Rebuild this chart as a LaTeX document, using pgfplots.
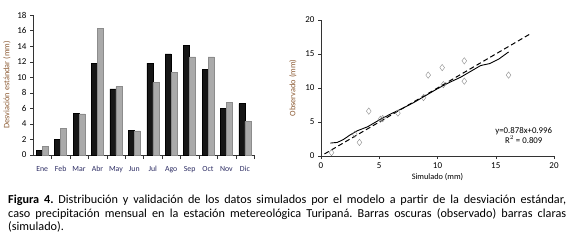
\documentclass[border=0pt]{standalone}
\usepackage{pgfplots}
\pgfplotsset{compat=1.18}
\usepackage{fontspec}
\setmainfont{Carlito}
\definecolor{labbrown}{RGB}{140,90,50}
\definecolor{monthc}{RGB}{45,45,100}
\definecolor{darkbar}{RGB}{22,22,22}
\definecolor{lightbar}{RGB}{170,170,170}
\begin{document}
\frenchspacing
\begin{tikzpicture}
\path[fill=white] (0pt,0pt) rectangle (572pt,-243pt);
\pgfplotsset{every axis/.append style={
  scale only axis, axis lines=left, axis line style={black!80, -},
  tick style={black!80}, tick align=outside,
  tick label style={font=\fontsize{9}{10}\selectfont},
  /pgf/number format/assume math mode=true,
}}
% left bar chart
\begin{axis}[at={(33pt,-155pt)}, anchor=south west,
  width=222pt, height=140pt,
  xmin=-0.5, xmax=11.55, ymin=0, ymax=18,
  ytick={0,2,...,18},
  xtick={0,...,11},
  xticklabels={Ene,Feb,Mar,Abr,May,Jun,Jul,Ago,Sep,Oct,Nov,Dic},
  xticklabel style={font=\fontsize{7.8}{9}\selectfont, text=monthc, yshift=-4.5pt},
  major x tick style={draw=none},
  minor xtick={0.5,1.5,...,11.5},
  minor tick length=4pt,
  major tick length=3pt,
  ylabel={Desviación estándar (mm)},
  ylabel style={font=\fontsize{8.3}{9}\selectfont, text=labbrown, at={(axis description cs:-0.085,0.5)}},
  ybar, bar width=6pt,
]
\addplot[fill=darkbar, draw=black, bar shift=-3pt] coordinates {
(0,0.6) (1,2.0) (2,5.4) (3,11.8) (4,8.5) (5,3.2) (6,11.8) (7,13.0) (8,14.1) (9,11.0) (10,6.0) (11,6.6)};
\addplot[fill=lightbar, draw=black!45, bar shift=3pt] coordinates {
(0,1.1) (1,3.4) (2,5.3) (3,16.3) (4,8.8) (5,3.1) (6,9.3) (7,10.6) (8,12.6) (9,12.6) (10,6.8) (11,4.3)};
\end{axis}
% right scatter
\begin{axis}[at={(321pt,-156pt)}, anchor=south west,
  width=233pt, height=136pt,
  xmin=0, xmax=20, ymin=0, ymax=20,
  xtick={0,5,...,20}, ytick={0,5,...,20},
  major tick length=3pt,
  xlabel={Simulado (mm)},
  xlabel style={font=\fontsize{8.3}{9}\selectfont, yshift=2pt},
  ylabel={Observado (mm)},
  ylabel style={font=\fontsize{8.3}{9}\selectfont, text=labbrown, at={(axis description cs:-0.09,0.5)}},
]
\addplot[only marks, mark=diamond, mark size=3.2pt, draw=black!45] coordinates {
(0.9,0.5) (3.3,2.0) (5.3,5.5) (16.1,11.9) (8.8,8.6) (2.9,3.2) (9.2,11.9) (10.4,13.0) (12.3,14.0) (12.3,11.0) (6.6,6.3) (4.1,6.6) (10.5,10.5) (5.1,5.4)};
\addplot[black, line width=1pt, dash pattern=on 5pt off 3pt] coordinates {(0.3,0.3) (18,18)};
\addplot[black, line width=0.9pt] coordinates {
(0.8,1.9) (1.4,2.0) (1.9,2.4) (2.5,3.1) (3.1,3.7) (4.0,4.3) (5.0,5.3) (6.0,6.2) (7.0,7.0) (8.0,7.9) (9.0,8.9) (10.0,9.9) (11.0,10.8) (12.0,11.6) (13.0,12.6) (13.7,13.3) (14.5,13.6) (15.3,14.3) (16.1,15.3)};
\node[font=\fontsize{8.8}{9.8}\selectfont, align=center, inner sep=0pt] at (axis cs:17.4,3.0) {y=0.878x+0.996\\R$^2$ = 0.809};
\end{axis}
\node[anchor=north west, text width=558pt, align=justify, inner sep=0pt, font=\fontsize{12.2}{13.6}\selectfont] at (8pt,-195pt)
{\textbf{Figura 4.} Distribución y validación de los datos simulados por el modelo a partir de la desviación estándar,\linebreak caso precipitación mensual en la estación metereológica Turipaná. Barras oscuras (observado) barras claras\linebreak (simulado).};
\end{tikzpicture}
\end{document}
